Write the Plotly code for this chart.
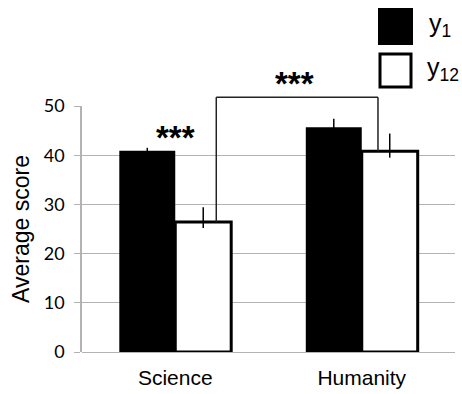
import plotly.graph_objects as go

categories = ["Science", "Humanity"]
y1_values = [40.9, 45.7]
y1_err_plus = [0.6, 1.7]
y1_err_minus = [0.6, 1.7]
y12_values = [26.4, 40.8]
y12_err_plus = [3.0, 3.6]
y12_err_minus = [1.2, 1.3]
y_ticks = [0, 10, 20, 30, 40, 50]
bracket_level = 51.8

W, H = 462, 394
L, R, T, B = 82, 7, 106, 42
pw, ph = W - L - R, H - T - B

def px(x):
    return (x - L) / pw

def py(y):
    return (H - B - y) / ph

fig = go.Figure()
fig.add_trace(go.Bar(
    x=categories, y=y1_values, name="y1",
    marker=dict(color="black", line=dict(color="black", width=0)),
    error_y=dict(type="data", symmetric=False, array=y1_err_plus, arrayminus=y1_err_minus,
                 color="black", thickness=1.5, width=0),
))
fig.add_trace(go.Bar(
    x=categories, y=y12_values, name="y12",
    marker=dict(color="white", line=dict(color="black", width=3)),
    error_y=dict(type="data", symmetric=False, array=y12_err_plus, arrayminus=y12_err_minus,
                 color="black", thickness=1.5, width=0),
))

ymax = y_ticks[-1]
grid_c = "#b3b3b3"
fig.update_layout(
    width=W, height=H,
    margin=dict(l=L, r=R, t=T, b=B, pad=0, autoexpand=False),
    paper_bgcolor="white", plot_bgcolor="white",
    barmode="group", bargap=0.4, bargroupgap=0,
    showlegend=False,
    xaxis=dict(range=[-0.5, 1.5], showgrid=False, showline=False, ticks="", automargin=False,
               tickfont=dict(family="Liberation Sans", size=21, color="black"),
               ticklabelstandoff=11),
    yaxis=dict(range=[0, ymax], tickvals=y_ticks, showgrid=True, gridcolor=grid_c, gridwidth=1,
               zeroline=True, zerolinecolor=grid_c, zerolinewidth=1, automargin=False,
               showline=True, linecolor=grid_c, linewidth=1.5,
               ticks="outside", ticklen=6, tickcolor=grid_c, tickwidth=1,
               tickfont=dict(family="Lato", size=18, color="black"), ticklabelstandoff=6,
               title=dict(text="Average score", font=dict(family="Liberation Sans", size=23, color="black"),
                          standoff=8)),
)

# significance bracket between Science y12 and Humanity y12
left_x = 0 + 0.22
right_x = 1 + 0.087
bl = dict(color="#222222", width=1.5)
fig.add_shape(type="line", xref="x", yref="paper", x0=left_x, x1=left_x,
              y0=y12_values[0] / ymax, y1=bracket_level / ymax, line=bl)
fig.add_shape(type="line", xref="x", yref="paper", x0=left_x, x1=right_x,
              y0=bracket_level / ymax, y1=bracket_level / ymax, line=bl)
fig.add_shape(type="line", xref="x", yref="paper", x0=right_x, x1=right_x,
              y0=y12_values[1] / ymax, y1=bracket_level / ymax, line=bl)

star_font = dict(family="Liberation Sans", size=33, color="black")
fig.add_annotation(x=0.0, y=py(137), xref="x", yref="paper", text="<b>***</b>", showarrow=False,
                   font=star_font, yanchor="middle")
fig.add_annotation(x=0.64, y=py(83), xref="x", yref="paper", text="<b>***</b>", showarrow=False,
                   font=star_font, yanchor="middle")

# legend
fig.add_shape(type="rect", xref="paper", yref="paper", x0=px(379), x1=px(412), y0=py(44), y1=py(9),
              fillcolor="black", line=dict(color="black", width=2))
fig.add_shape(type="rect", xref="paper", yref="paper", x0=px(380), x1=px(411), y0=py(87), y1=py(54),
              fillcolor="white", line=dict(color="black", width=3))
leg_font = dict(family="Liberation Sans", size=25, color="black")
fig.add_annotation(x=px(427), y=py(25), xref="paper", yref="paper", text="y<sub>1</sub>",
                   showarrow=False, xanchor="left", yanchor="middle", font=leg_font)
fig.add_annotation(x=px(425), y=py(69), xref="paper", yref="paper", text="y<sub>12</sub>",
                   showarrow=False, xanchor="left", yanchor="middle", font=leg_font)

fig.write_html("out.html")
